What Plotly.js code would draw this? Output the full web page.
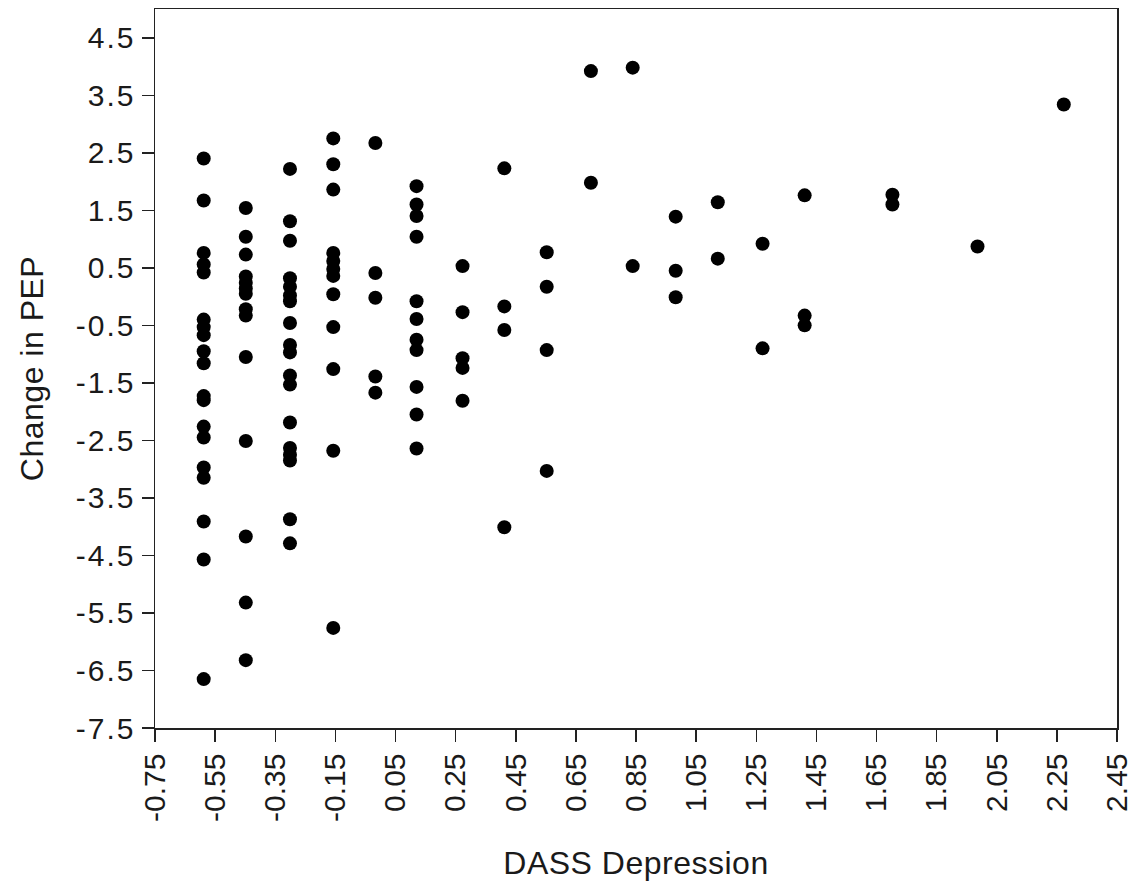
<!DOCTYPE html>
<html>
<head>
<meta charset="utf-8">
<script src="https://cdn.plot.ly/plotly-3.0.1.min.js"></script>
<style>
  html, body { margin: 0; padding: 0; background: #ffffff; }
  #chart { width: 1142px; height: 887px; }
  #chart .ytick text { letter-spacing: 2px; }
  #chart .ytitle, #chart .xtitle { letter-spacing: 0.5px; }
</style>
</head>
<body>
<div id="chart"></div>
<script>
// DASS Depression (x) and Change in PEP (y), one entry per participant
const dassDepression = [
  -0.588,-0.588,-0.588,-0.588,-0.588,-0.588,-0.588,-0.588,-0.588,-0.588,-0.588,-0.588,-0.588,-0.588,-0.588,-0.588,-0.588,-0.588,-0.588,
  -0.448,-0.448,-0.448,-0.448,-0.448,-0.448,-0.448,-0.448,-0.448,-0.448,-0.448,-0.448,-0.448,-0.448,
  -0.301,-0.301,-0.301,-0.301,-0.301,-0.301,-0.301,-0.301,-0.301,-0.301,-0.301,-0.301,-0.301,-0.301,-0.301,-0.301,-0.301,-0.301,
  -0.157,-0.157,-0.157,-0.157,-0.157,-0.157,-0.157,-0.157,-0.157,-0.157,-0.157,-0.157,
  -0.017,-0.017,-0.017,-0.017,-0.017,
  0.120,0.120,0.120,0.120,0.120,0.120,0.120,0.120,0.120,0.120,0.120,
  0.273,0.273,0.273,0.273,0.273,
  0.412,0.412,0.412,0.412,
  0.553,0.553,0.553,0.553,
  0.700,0.700,
  0.839,0.839,
  0.982,0.982,0.982,
  1.122,1.122,
  1.271,1.271,
  1.411,1.411,1.411,
  1.703,1.703,
  1.986,
  2.273
];
const changeInPEP = [
  2.40,1.67,0.76,0.56,0.42,-0.40,-0.53,-0.67,-0.95,-1.16,-1.73,-1.80,-2.26,-2.45,-2.97,-3.15,-3.91,-4.57,-6.65,
  1.54,1.04,0.73,0.35,0.24,0.14,0.05,-0.22,-0.33,-1.05,-2.51,-4.17,-5.32,-6.32,
  2.22,1.31,0.97,0.32,0.17,0.02,-0.08,-0.46,-0.84,-0.97,-1.37,-1.53,-2.19,-2.63,-2.75,-2.85,-3.87,-4.29,
  2.75,2.30,1.86,0.76,0.62,0.48,0.36,0.04,-0.53,-1.26,-2.68,-5.76,
  2.67,0.41,-0.02,-1.39,-1.67,
  1.92,1.60,1.40,1.04,-0.08,-0.39,-0.75,-0.93,-1.57,-2.05,-2.64,
  0.53,-0.27,-1.07,-1.24,-1.81,
  2.23,-0.17,-0.58,-4.01,
  0.77,0.17,-0.93,-3.03,
  3.92,1.98,
  3.98,0.53,
  1.39,0.45,-0.01,
  1.64,0.66,
  0.92,-0.90,
  1.76,-0.33,-0.50,
  1.77,1.60,
  0.87,
  3.34
];

const xTickVals = [-0.75,-0.55,-0.35,-0.15,0.05,0.25,0.45,0.65,0.85,1.05,1.25,1.45,1.65,1.85,2.05,2.25,2.45];
const xTickText = ["-0.75","-0.55","-0.35","-0.15","0.05","0.25","0.45","0.65","0.85","1.05","1.25","1.45","1.65","1.85","2.05","2.25","2.45"];
const yTickVals = [4.5,3.5,2.5,1.5,0.5,-0.5,-1.5,-2.5,-3.5,-4.5,-5.5,-6.5,-7.5];
const yTickText = ["4.5","3.5","2.5","1.5","0.5","-0.5","-1.5","-2.5","-3.5","-4.5","-5.5","-6.5","-7.5"];

const xTitle = "DASS Depression";
const yTitle = "Change in PEP";

const fontFamily = "Liberation Sans, Arial, sans-serif";

const trace = {
  type: "scatter",
  mode: "markers",
  x: dassDepression,
  y: changeInPEP,
  marker: { color: "#000000", size: 14, line: { width: 0 } },
  hoverinfo: "x+y",
  showlegend: false
};

const layout = {
  width: 1142,
  height: 887,
  margin: { l: 155, r: 25, t: 9, b: 159 },
  paper_bgcolor: "#ffffff",
  plot_bgcolor: "#ffffff",
  font: { family: fontFamily, color: "#1a1a1a", size: 30 },
  showlegend: false,
  xaxis: {
    range: [-0.75, 2.45],
    tickmode: "array",
    tickvals: xTickVals,
    ticktext: xTickText,
    tickangle: -90,
    ticks: "outside",
    ticklen: 12,
    tickwidth: 1.5,
    tickcolor: "#222",
    tickfont: { family: fontFamily, size: 30, color: "#1a1a1a" },
    showgrid: false,
    zeroline: false,
    showline: true,
    linecolor: "#222",
    linewidth: 1.5,
    mirror: true,
    automargin: false,
    title: { text: xTitle, font: { family: fontFamily, size: 32, color: "#1a1a1a" }, standoff: 30 }
  },
  yaxis: {
    range: [-7.5, 5.0],
    tickmode: "array",
    tickvals: yTickVals,
    ticktext: yTickText,
    ticks: "outside",
    ticklen: 12,
    tickwidth: 1.5,
    tickcolor: "#222",
    tickfont: { family: fontFamily, size: 30, color: "#1a1a1a" },
    showgrid: false,
    zeroline: false,
    showline: true,
    linecolor: "#222",
    linewidth: 1.5,
    mirror: true,
    automargin: false,
    title: { text: yTitle, font: { family: fontFamily, size: 32, color: "#1a1a1a" }, standoff: 30 }
  }
};

Plotly.newPlot("chart", [trace], layout, { displayModeBar: false, staticPlot: true });
</script>
</body>
</html>
